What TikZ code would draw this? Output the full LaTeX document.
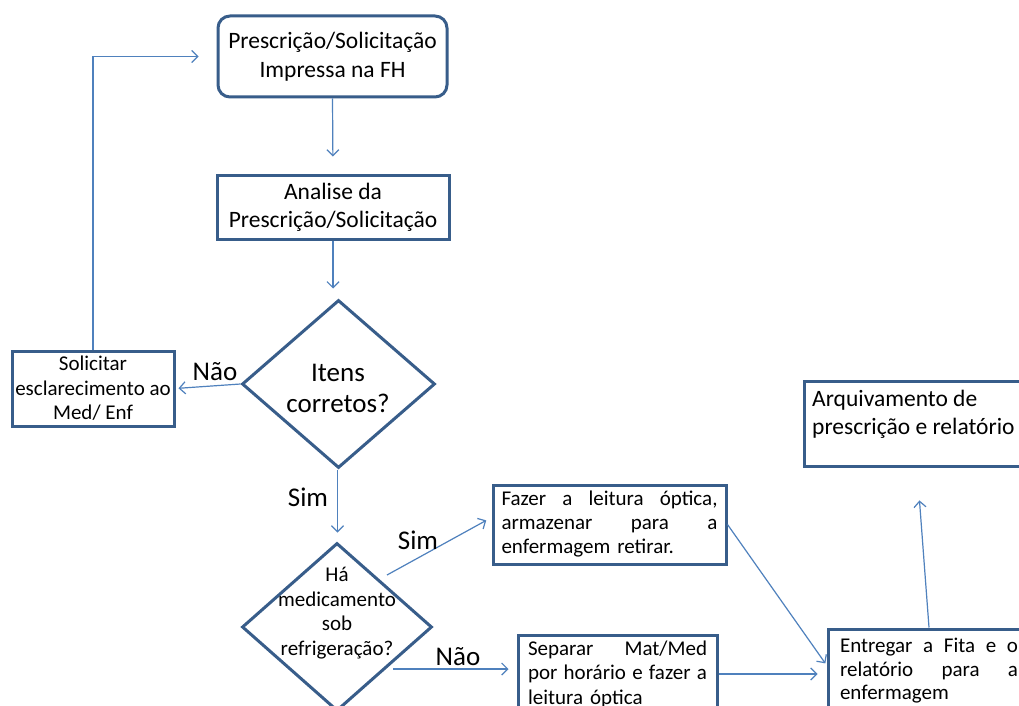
\documentclass[tikz,border=0pt]{standalone}
\usepackage{fontspec}
\setmainfont{Carlito}
\usetikzlibrary{shapes.geometric,arrows.meta,calc}
\definecolor{boxline}{RGB}{56,93,138}
\definecolor{connline}{RGB}{79,129,189}
% a line spread out to the given width (font spaces, so they can stretch)
\newcommand{\jline}[2]{{\spaceskip=0pt\xspaceskip=0pt\makebox[#1][s]{#2}}}
\tikzset{
  box/.style={draw=boxline, line width=3pt, fill=white, inner sep=0pt, align=center},
  rbox/.style={box, rounded corners=12pt},
  decision/.style={diamond, draw=boxline, line width=3pt, fill=white, inner sep=0pt},
  conn/.style={draw=connline, line width=1.2pt, -{Straight Barb[length=6pt,width=12pt]}},
  lab/.style={inner sep=0pt, font=\fontsize{27}{31}\selectfont},
  txt/.style={inner sep=0pt},
  big/.style={font=\fontsize{23.5}{29}\selectfont},
  small/.style={font=\fontsize{21}{24.5}\selectfont},
}
\begin{document}
\begin{tikzpicture}[x=1pt,y=-1pt]
\useasboundingbox (0,0) rectangle (1019,706);
\fill[white] (0,0) rectangle (1019,706);
\clip (0,0) rectangle (1019,706);

% process boxes
\node[rbox, big, minimum width=229pt, minimum height=81pt] (b1) at (332.5,56.5)
  {Prescrição/Solicitação\\Impressa na FH};
\node[box, big, font=\fontsize{23.5}{28}\selectfont, minimum width=232pt, minimum height=64pt] (b2) at (333,207)
  {Analise da\\Prescrição/Solicitação};
\node[box, small, minimum width=162pt, minimum height=75pt] (b3) at (93,388.5)
  {Solicitar\\esclarecimento ao\\Med/ Enf};
\node[box, small, font=\fontsize{21}{24}\selectfont, minimum width=233pt, minimum height=79pt, text width=216pt, align=left] (b4) at (609.5,524.5)
  {\jline{216pt}{Fazer a leitura óptica,}\\\jline{216pt}{armazenar para a}\\enfermagem retirar.};
\node[box, small, minimum width=199pt, minimum height=78pt, text width=179pt, align=left] (b5) at (617.5,674)
  {\jline{179pt}{Separar Mat/Med}\\\jline{179pt}{por horário e fazer a}\\leitura óptica};
\node[box, small, font=\fontsize{21}{23.5}\selectfont, minimum width=202pt, minimum height=84pt, text width=178pt, align=left] (b6) at (929,671)
  {\jline{178pt}{Entregar a Fita e o}\\\jline{178pt}{relatório para a}\\enfermagem};
\node[box, minimum width=226pt, minimum height=85pt] (b7) at (917,423.5) {};
\node[txt, big, font=\fontsize{23.5}{28}\selectfont, anchor=west, align=left] (t7) at (812,414)
  {Arquivamento de\\prescrição e relatório};

% decisions
\node[decision, minimum width=193pt, minimum height=168pt] (d1) at (338.5,384) {};
\node[txt, font=\fontsize{27}{31}\selectfont, align=center] (t1) at (338,388) {Itens\\corretos?};
\node[decision, minimum width=190pt, minimum height=168pt] (d2) at (337,627) {};
\node[txt, small, font=\fontsize{21}{24.7}\selectfont, align=center] (t2) at (337,613)
  {Há\\medicamento\\sob\\refrigeração?};

% free ends of the branch lines
\coordinate (s1) at (387,575);
\coordinate (s2) at (393,669);

% connectors
\draw[conn, shorten >=17pt] (b1.south) -- (b2.north);
\draw[conn, shorten >=10pt] (b2.south) -- (b2.south |- d1.north);
\draw[conn, shorten >=3pt] (d1.west) -- (b3.east);
\draw[conn, shorten >=18pt] (b3.north) |- (b1.west);
\draw[conn, shorten >=9pt] ([xshift=-1pt]d1.south) -- ([xshift=-1pt]d1.south |- d2.north);
\draw[conn, shorten >=6pt] (s1) -- ([yshift=7pt]b4.west);
\draw[conn, shorten >=8pt] (s2) -- (s2 -| b5.west);
\draw[conn, shorten >=9pt] (b5.east) -- (b5.east -| b6.west);
\draw[conn, shorten >=2pt] (b4.east) -- ([yshift=6pt]b6.west);
\draw[conn, shorten >=33pt] (b6.north) -- (b7.south);

% branch labels
\node[lab] (l1) at (215,372) {Não};
\node[lab] (l2) at (308,497) {Sim};
\node[lab] (l3) at (418,540) {Sim};
\node[lab] (l4) at (458,657) {Não};
\end{tikzpicture}
\end{document}
